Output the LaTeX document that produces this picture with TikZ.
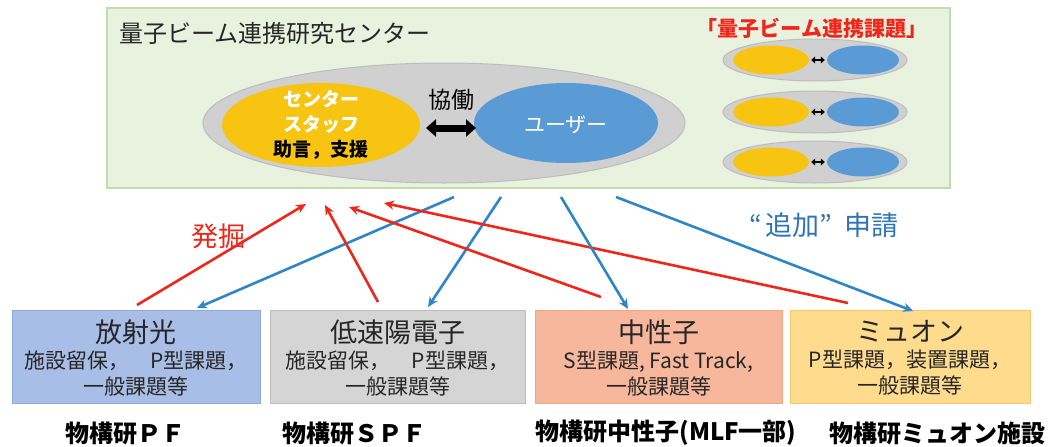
\documentclass[tikz,border=0pt]{standalone}
\usepackage{fontspec}
\setmainfont{Noto Sans CJK JP}
\usetikzlibrary{arrows.meta,shapes.geometric,calc}
\definecolor{bgreen}{HTML}{E8F2DF}
\definecolor{bgreenline}{HTML}{C3DCAB}
\definecolor{ygold}{HTML}{F7C412}
\definecolor{ublue}{HTML}{5B9BD5}
\definecolor{ovgray}{HTML}{D0D0D0}
\definecolor{ovline}{HTML}{BDBDBD}
\definecolor{rred}{HTML}{F0261B}
\definecolor{ablue}{HTML}{2E86C9}
\definecolor{tblue}{HTML}{2E75B6}
\definecolor{fA}{HTML}{A8BEE6}
\definecolor{lA}{HTML}{8FAADC}
\definecolor{fB}{HTML}{D5D5D5}
\definecolor{lB}{HTML}{BDBDBD}
\definecolor{fC}{HTML}{F7B79C}
\definecolor{lC}{HTML}{F3A683}
\definecolor{fD}{HTML}{FFDB8E}
\definecolor{lD}{HTML}{F5C96A}
\tikzset{
  bigov/.style={ellipse,fill=ovgray,draw=ovline,line width=1pt,minimum width=482pt,minimum height=120pt,inner sep=0pt},
  yov/.style={ellipse,fill=ygold,minimum width=198pt,minimum height=84pt,inner sep=0pt},
  bov/.style={ellipse,fill=ublue,minimum width=184pt,minimum height=80pt,inner sep=0pt},
  smov/.style={ellipse,fill=ovgray,draw=ovline,line width=1pt,minimum width=184pt,minimum height=42pt,inner sep=0pt},
  smy/.style={ellipse,fill=ygold,minimum width=76pt,minimum height=29pt,inner sep=0pt},
  smb/.style={ellipse,fill=ublue,minimum width=72pt,minimum height=29pt,inner sep=0pt},
  facbox/.style={rectangle,line width=1pt,minimum width=#1,minimum height=93pt,inner sep=0pt,align=center},
  factxt/.style={align=center,font=\fontsize{21}{26}\selectfont,text=black!85},
  redarr/.style={draw=rred,line width=2.6pt,-{Stealth[length=10pt,width=9pt]}},
  bluearr/.style={draw=ablue,line width=2.6pt,-{Stealth[length=10pt,width=9pt]}},
  labl/.style={font=\bfseries\fontsize{24}{26}\selectfont,anchor=center}
}
\begin{document}
\begin{tikzpicture}[x=1pt,y=-1pt]
\useasboundingbox (0,0) rectangle (1052,447);
% main green box
\node[rectangle,fill=bgreen,draw=bgreenline,line width=1.2pt,minimum width=843pt,minimum height=180pt,inner sep=0pt] (center) at (528.5,98) {};
\node[anchor=west,font=\fontsize{24}{26}\selectfont,text=black!85] (title) at (116,33) {量子ビーム連携研究センター};
% big ellipse
\node[bigov] (big) at (444,123) {};
\node[yov] (staff) at (321,125) {};
\node[align=center,font=\bfseries\fontsize{19}{25}\selectfont,text=white] (stafftxt) at (321,112) {センター\\スタッフ};
\node[font=\bfseries\fontsize{19}{22}\selectfont,text=black] (advice) at (321,150) {助言，支援};
\node[bov] (user) at (566,123) {};
\node[font=\fontsize{21}{24}\selectfont,text=white] (usertxt) at (566,125) {ユーザー};
\node[font=\fontsize{23}{25}\selectfont] (kyodo) at (451,100) {協働};
\coordinate (dl) at (426,128);
\coordinate (dr) at (476,128);
\draw[line width=7pt,{Triangle[length=10pt,width=17pt]}-{Triangle[length=10pt,width=17pt]}] (dl) -- (dr);
% right: project label
\node[font=\bfseries\fontsize{21}{23}\selectfont,text=rred] (kadai) at (812,28) {「量子ビーム連携課題」};
\foreach \i/\y in {1/60,2/112,3/162}{
  \node[smov] (so\i) at (815,\y) {};
  \node[smy] (sy\i) at (771,\y) {};
  \node[smb] (sb\i) at (863,\y) {};
  \draw[line width=2.6pt,{Triangle[length=4pt,width=7pt]}-{Triangle[length=4pt,width=7pt]}] ($(sy\i.east)+(2pt,0)$) -- ($(sb\i.west)+(-2pt,0)$);
}
% facility boxes
\node[facbox=248pt,fill=fA,draw=lA] (pf) at (136,357) {};
\node[facbox=255pt,fill=fB,draw=lB] (spf) at (397.5,357) {};
\node[facbox=247pt,fill=fC,draw=lC] (neu) at (658.5,357) {};
\node[facbox=240pt,fill=fD,draw=lD] (muon) at (910,357) {};
\node[factxt] (pftxt) at (136,358) {{\fontsize{27}{29}\selectfont 放射光}\\施設留保，　P型課題，\\一般課題等};
\node[factxt] (spftxt) at (397.5,358) {{\fontsize{27}{29}\selectfont 低速陽電子}\\施設留保，　P型課題，\\一般課題等};
\node[factxt] (neutxt) at (658.5,358) {{\fontsize{27}{29}\selectfont 中性子}\\S型課題, Fast Track,\\一般課題等};
\node[factxt] (muontxt) at (910,358) {{\fontsize{27}{29}\selectfont ミュオン}\\P型課題，装置課題，\\一般課題等};
% bottom labels
\node[labl] (l1) at (125,433) {物構研ＰＦ};
\node[labl] (l2) at (354,433) {物構研ＳＰＦ};
\node[labl] (l3) at (666,433) {物構研中性子(MLF一部)};
\node[labl] (l4) at (937,433) {物構研ミュオン施設};
% arrow endpoints
\coordinate (r1s) at (137,305); \coordinate (r1e) at (306,204);
\coordinate (r2s) at (378,302); \coordinate (r2e) at (325,205);
\coordinate (r3s) at (601,297); \coordinate (r3e) at (349,207);
\coordinate (r4s) at (848,303); \coordinate (r4e) at (384,203);
\coordinate (b1s) at (454,197); \coordinate (b1e) at (197,308);
\coordinate (b2s) at (501,197); \coordinate (b2e) at (428,307);
\coordinate (b3s) at (561,197); \coordinate (b3e) at (628,309);
\coordinate (b4s) at (616,197); \coordinate (b4e) at (913,311);
\draw[bluearr] (b1s) -- (b1e);
\draw[bluearr] (b2s) -- (b2e);
\draw[redarr] (r1s) -- (r1e);
\draw[redarr] (r2s) -- (r2e);
\draw[redarr] (r3s) -- (r3e);
\draw[redarr] (r4s) -- (r4e);
\draw[bluearr] (b3s) -- (b3e);
\draw[bluearr] (b4s) -- (b4e);
\node[font=\fontsize{27}{30}\selectfont,text=rred] (hakkutsu) at (218,236) {発掘};
\node[font=\fontsize{27}{30}\selectfont,text=tblue] (tsuika) at (824,225) {“\hspace{3pt}追加”\hspace{12pt}申請};
\end{tikzpicture}
\end{document}
